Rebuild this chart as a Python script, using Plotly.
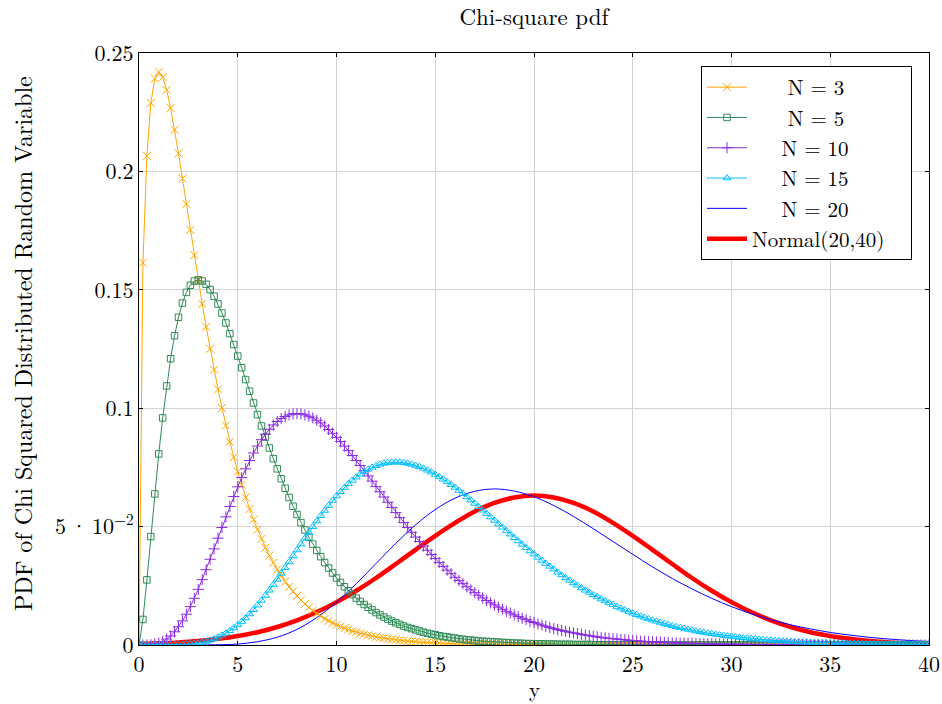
import numpy as np
import plotly.graph_objects as go

STEP_FINE = 0.2

chi3_pdf = [
    0.0, 0.1614, 0.2066, 0.2289, 0.2392, 0.2420, 0.2398, 0.2344, 0.2267, 0.2176,
    0.2076, 0.1970, 0.1862, 0.1753, 0.1646, 0.1542, 0.1441, 0.1344, 0.1251, 0.1163,
    0.1080, 0.1001, 0.0927, 0.0858, 0.0793, 0.0732, 0.0676, 0.0623, 0.0574, 0.0529,
    0.0487, 0.0448, 0.0411, 0.0378, 0.0347, 0.0319, 0.0293, 0.0268, 0.0246, 0.0226,
    0.0207, 0.0189, 0.0173, 0.0159, 0.0145, 0.0133, 0.0122, 0.0111, 0.0102, 0.0093,
    0.0085, 0.0078, 0.0071, 0.0065, 0.0059, 0.0054, 0.0049, 0.0045, 0.0041, 0.0037,
    0.0034, 0.0031, 0.0029, 0.0026, 0.0024, 0.0022, 0.0020, 0.0018, 0.0016, 0.0015,
    0.0014, 0.0012, 0.0011, 0.0010, 0.0009, 0.0009, 0.0008, 0.0007, 0.0006, 0.0006,
    0.0005, 0.0005, 0.0004, 0.0004, 0.0004, 0.0003, 0.0003, 0.0003, 0.0003, 0.0002,
    0.0002, 0.0002, 0.0002, 0.0002, 0.0001, 0.0001, 0.0001, 0.0001, 0.0001, 0.0001,
    0.0001, 0.0001, 0.0001, 0.0001, 0.0001, 0.0001, 0.0, 0.0, 0.0, 0.0,
    0.0, 0.0, 0.0, 0.0, 0.0, 0.0, 0.0, 0.0, 0.0, 0.0,
    0.0, 0.0, 0.0, 0.0, 0.0, 0.0, 0.0, 0.0, 0.0, 0.0,
    0.0, 0.0, 0.0, 0.0, 0.0, 0.0, 0.0, 0.0, 0.0, 0.0,
    0.0, 0.0, 0.0, 0.0, 0.0, 0.0, 0.0, 0.0, 0.0, 0.0,
    0.0, 0.0, 0.0, 0.0, 0.0, 0.0, 0.0, 0.0, 0.0, 0.0,
    0.0, 0.0, 0.0, 0.0, 0.0, 0.0, 0.0, 0.0, 0.0, 0.0,
    0.0, 0.0, 0.0, 0.0, 0.0, 0.0, 0.0, 0.0, 0.0, 0.0,
    0.0, 0.0, 0.0, 0.0, 0.0, 0.0, 0.0, 0.0, 0.0, 0.0,
    0.0, 0.0, 0.0, 0.0, 0.0, 0.0, 0.0, 0.0, 0.0, 0.0,
    0.0,
]

chi5_pdf = [
    0.0, 0.0108, 0.0275, 0.0458, 0.0638, 0.0807, 0.0959, 0.1094, 0.1209, 0.1306,
    0.1384, 0.1444, 0.1489, 0.1519, 0.1537, 0.1542, 0.1537, 0.1523, 0.1501, 0.1473,
    0.1440, 0.1402, 0.1360, 0.1315, 0.1269, 0.1220, 0.1171, 0.1121, 0.1072, 0.1022,
    0.0973, 0.0925, 0.0878, 0.0832, 0.0787, 0.0744, 0.0702, 0.0662, 0.0623, 0.0586,
    0.0551, 0.0517, 0.0486, 0.0455, 0.0426, 0.0399, 0.0373, 0.0348, 0.0325, 0.0304,
    0.0283, 0.0264, 0.0246, 0.0229, 0.0213, 0.0198, 0.0184, 0.0171, 0.0159, 0.0148,
    0.0137, 0.0127, 0.0118, 0.0109, 0.0101, 0.0094, 0.0087, 0.0080, 0.0074, 0.0069,
    0.0064, 0.0059, 0.0054, 0.0050, 0.0046, 0.0043, 0.0039, 0.0036, 0.0034, 0.0031,
    0.0029, 0.0026, 0.0024, 0.0022, 0.0021, 0.0019, 0.0017, 0.0016, 0.0015, 0.0014,
    0.0013, 0.0012, 0.0011, 0.0010, 0.0009, 0.0008, 0.0008, 0.0007, 0.0006, 0.0006,
    0.0005, 0.0005, 0.0005, 0.0004, 0.0004, 0.0004, 0.0003, 0.0003, 0.0003, 0.0003,
    0.0002, 0.0002, 0.0002, 0.0002, 0.0002, 0.0001, 0.0001, 0.0001, 0.0001, 0.0001,
    0.0001, 0.0001, 0.0001, 0.0001, 0.0001, 0.0001, 0.0001, 0.0001, 0.0, 0.0,
    0.0, 0.0, 0.0, 0.0, 0.0, 0.0, 0.0, 0.0, 0.0, 0.0,
    0.0, 0.0, 0.0, 0.0, 0.0, 0.0, 0.0, 0.0, 0.0, 0.0,
    0.0, 0.0, 0.0, 0.0, 0.0, 0.0, 0.0, 0.0, 0.0, 0.0,
    0.0, 0.0, 0.0, 0.0, 0.0, 0.0, 0.0, 0.0, 0.0, 0.0,
    0.0, 0.0, 0.0, 0.0, 0.0, 0.0, 0.0, 0.0, 0.0, 0.0,
    0.0, 0.0, 0.0, 0.0, 0.0, 0.0, 0.0, 0.0, 0.0, 0.0,
    0.0, 0.0, 0.0, 0.0, 0.0, 0.0, 0.0, 0.0, 0.0, 0.0,
    0.0,
]

chi10_pdf = [
    0.0, 0.0, 0.0, 0.0001, 0.0004, 0.0008, 0.0015, 0.0025, 0.0038, 0.0056,
    0.0077, 0.0102, 0.0130, 0.0162, 0.0197, 0.0235, 0.0276, 0.0318, 0.0362, 0.0406,
    0.0451, 0.0496, 0.0541, 0.0585, 0.0627, 0.0668, 0.0707, 0.0744, 0.0779, 0.0811,
    0.0840, 0.0867, 0.0890, 0.0911, 0.0929, 0.0944, 0.0956, 0.0965, 0.0972, 0.0976,
    0.0977, 0.0976, 0.0972, 0.0966, 0.0959, 0.0949, 0.0938, 0.0925, 0.0910, 0.0894,
    0.0877, 0.0859, 0.0840, 0.0821, 0.0800, 0.0779, 0.0758, 0.0736, 0.0714, 0.0692,
    0.0669, 0.0647, 0.0625, 0.0603, 0.0581, 0.0559, 0.0538, 0.0517, 0.0496, 0.0476,
    0.0456, 0.0437, 0.0418, 0.0400, 0.0382, 0.0365, 0.0348, 0.0332, 0.0316, 0.0301,
    0.0286, 0.0272, 0.0259, 0.0246, 0.0233, 0.0221, 0.0210, 0.0199, 0.0188, 0.0178,
    0.0169, 0.0160, 0.0151, 0.0142, 0.0135, 0.0127, 0.0120, 0.0113, 0.0107, 0.0100,
    0.0095, 0.0089, 0.0084, 0.0079, 0.0074, 0.0069, 0.0065, 0.0061, 0.0058, 0.0054,
    0.0051, 0.0048, 0.0045, 0.0042, 0.0039, 0.0037, 0.0034, 0.0032, 0.0030, 0.0028,
    0.0027, 0.0025, 0.0023, 0.0022, 0.0020, 0.0019, 0.0018, 0.0016, 0.0015, 0.0014,
    0.0013, 0.0013, 0.0012, 0.0011, 0.0010, 0.0009, 0.0009, 0.0008, 0.0008, 0.0007,
    0.0007, 0.0006, 0.0006, 0.0005, 0.0005, 0.0005, 0.0004, 0.0004, 0.0004, 0.0003,
    0.0003, 0.0003, 0.0003, 0.0003, 0.0002, 0.0002, 0.0002, 0.0002, 0.0002, 0.0002,
    0.0002, 0.0001, 0.0001, 0.0001, 0.0001, 0.0001, 0.0001, 0.0001, 0.0001, 0.0001,
    0.0001, 0.0001, 0.0001, 0.0001, 0.0001, 0.0, 0.0, 0.0, 0.0, 0.0,
    0.0, 0.0, 0.0, 0.0, 0.0, 0.0, 0.0, 0.0, 0.0, 0.0,
    0.0, 0.0, 0.0, 0.0, 0.0, 0.0, 0.0, 0.0, 0.0, 0.0,
    0.0,
]

chi15_pdf = [
    0.0, 0.0, 0.0, 0.0, 0.0, 0.0, 0.0, 0.0, 0.0, 0.0001,
    0.0001, 0.0002, 0.0003, 0.0004, 0.0006, 0.0008, 0.0011, 0.0015, 0.0020, 0.0026,
    0.0033, 0.0041, 0.0050, 0.0060, 0.0072, 0.0085, 0.0099, 0.0114, 0.0131, 0.0149,
    0.0168, 0.0188, 0.0209, 0.0231, 0.0254, 0.0277, 0.0302, 0.0326, 0.0351, 0.0376,
    0.0401, 0.0426, 0.0451, 0.0475, 0.0499, 0.0523, 0.0546, 0.0568, 0.0589, 0.0610,
    0.0629, 0.0647, 0.0665, 0.0681, 0.0695, 0.0709, 0.0721, 0.0732, 0.0742, 0.0750,
    0.0757, 0.0763, 0.0767, 0.0770, 0.0772, 0.0772, 0.0772, 0.0770, 0.0767, 0.0763,
    0.0758, 0.0753, 0.0746, 0.0738, 0.0730, 0.0720, 0.0710, 0.0700, 0.0689, 0.0677,
    0.0665, 0.0652, 0.0639, 0.0625, 0.0612, 0.0598, 0.0584, 0.0569, 0.0555, 0.0540,
    0.0526, 0.0511, 0.0497, 0.0482, 0.0468, 0.0453, 0.0439, 0.0425, 0.0411, 0.0397,
    0.0384, 0.0370, 0.0357, 0.0344, 0.0332, 0.0320, 0.0307, 0.0296, 0.0284, 0.0273,
    0.0262, 0.0252, 0.0241, 0.0231, 0.0222, 0.0212, 0.0203, 0.0194, 0.0186, 0.0178,
    0.0170, 0.0162, 0.0155, 0.0148, 0.0141, 0.0134, 0.0128, 0.0122, 0.0116, 0.0110,
    0.0105, 0.0100, 0.0095, 0.0090, 0.0086, 0.0081, 0.0077, 0.0073, 0.0070, 0.0066,
    0.0063, 0.0059, 0.0056, 0.0053, 0.0050, 0.0048, 0.0045, 0.0043, 0.0040, 0.0038,
    0.0036, 0.0034, 0.0032, 0.0030, 0.0029, 0.0027, 0.0026, 0.0024, 0.0023, 0.0021,
    0.0020, 0.0019, 0.0018, 0.0017, 0.0016, 0.0015, 0.0014, 0.0013, 0.0012, 0.0012,
    0.0011, 0.0010, 0.0010, 0.0009, 0.0009, 0.0008, 0.0008, 0.0007, 0.0007, 0.0006,
    0.0006, 0.0006, 0.0005, 0.0005, 0.0005, 0.0004, 0.0004, 0.0004, 0.0004, 0.0003,
    0.0003, 0.0003, 0.0003, 0.0003, 0.0002, 0.0002, 0.0002, 0.0002, 0.0002, 0.0002,
    0.0002,
]

# smooth curves without markers, sampled at every integer y
x_coarse = [0, 1, 2, 3, 4, 5, 6, 7, 8, 9, 10, 11, 12, 13, 14, 15, 16, 17, 18, 19, 20,
            21, 22, 23, 24, 25, 26, 27, 28, 29, 30, 31, 32, 33, 34, 35, 36, 37, 38, 39, 40]
chi20_pdf = [
    0.0, 0.0, 0.0, 0.0, 0.0001, 0.0004, 0.0014, 0.0033, 0.0066, 0.0116,
    0.0181, 0.0259, 0.0344, 0.0429, 0.0507, 0.0572, 0.0620, 0.0649, 0.0659, 0.0650,
    0.0626, 0.0589, 0.0543, 0.0491, 0.0437, 0.0383, 0.0330, 0.0281, 0.0237, 0.0197,
    0.0162, 0.0132, 0.0107, 0.0085, 0.0068, 0.0053, 0.0042, 0.0032, 0.0025, 0.0019,
    0.0015,
]
normal_pdf = [
    0.0004, 0.0007, 0.0011, 0.0017, 0.0026, 0.0038, 0.0054, 0.0076, 0.0104, 0.0139,
    0.0181, 0.0229, 0.0283, 0.0342, 0.0402, 0.0461, 0.0516, 0.0564, 0.0600, 0.0623,
    0.0631, 0.0623, 0.0600, 0.0564, 0.0516, 0.0461, 0.0402, 0.0342, 0.0283, 0.0229,
    0.0181, 0.0139, 0.0104, 0.0076, 0.0054, 0.0038, 0.0026, 0.0017, 0.0011, 0.0007,
    0.0004,
]

x_ticks = [0, 5, 10, 15, 20, 25, 30, 35, 40]
y_ticks = [0, 0.05, 0.1, 0.15, 0.2, 0.25]
y_ticktext = ["0", "5\u2009\u00b7\u200910<sup>\u22122</sup>", "0.1", "0.15", "0.2", "0.25"]

FONT = "Latin Modern Roman, CMU Serif, Liberation Serif, DejaVu Serif, serif"
NB = "\u00a0"
TH = "\u2009"

# plot-area geometry in pixels
L, R, T, B = 139, 13, 53, 59
W, H = 942, 704
PW, PH = W - L - R, H - T - B


def fine_x(vals):
    return np.round(np.arange(len(vals)) * STEP_FINE, 2)


fig = go.Figure()

marker_series = [
    ("N = 3", NB * 3 + TH, chi3_pdf, "#FFA500", "x-thin-open", 8),
    ("N = 5", NB * 3 + TH, chi5_pdf, "#2E8B57", "square-open", 6.5),
    ("N = 10", NB * 2 + TH * 2, chi10_pdf, "#8A2BE2", "cross-thin-open", 8),
    ("N = 15", NB * 2 + TH * 2, chi15_pdf, "#00BFFF", "triangle-up-open", 7),
]

# Normal drawn first (underneath), listed last in the legend
fig.add_trace(go.Scatter(
    x=x_coarse, y=normal_pdf, mode="lines", name="Normal(20,40)" + NB * 2,
    line=dict(color="#FF0000", width=4.5, shape="spline"), legendrank=1006,
))
fig.add_trace(go.Scatter(
    x=x_coarse, y=chi20_pdf, mode="lines", name=NB * 2 + TH * 2 + "N = 20",
    line=dict(color="#0000FF", width=1, shape="spline"), legendrank=1005,
))
for i, (name, pad, vals, col, sym, size) in enumerate(marker_series):
    fig.add_trace(go.Scatter(
        x=fine_x(vals), y=vals, mode="lines+markers", name=pad + name,
        line=dict(color=col, width=1),
        marker=dict(symbol=sym, size=size, color=col, line=dict(color=col, width=1)),
        legendrank=1001 + i,
    ))

fig.update_layout(
    width=W, height=H,
    margin=dict(l=L, r=R, t=T, b=B),
    plot_bgcolor="white", paper_bgcolor="white",
    font=dict(family=FONT, size=22, color="black"),
    title=dict(text="Chi-square pdf", x=0.5, xref="paper", xanchor="center",
               y=1 - 17 / H, yref="container", yanchor="middle",
               font=dict(family=FONT, size=23, color="black")),
    showlegend=True,
    legend=dict(
        x=(912 - L) / PW, xanchor="right", y=(H - B - 66) / PH, yanchor="top",
        bgcolor="white", bordercolor="black", borderwidth=1,
        font=dict(family=FONT, size=21, color="black"),
        itemwidth=40, tracegroupgap=0,
    ),
    annotations=[
        dict(text="y", xref="paper", yref="paper", x=0.5, y=-(704 - (H - B)) / PH,
             xanchor="center", yanchor="bottom", showarrow=False, borderpad=0,
             font=dict(family=FONT, size=21, color="black")),
        dict(text="PDF of Chi Squared Distributed Random Variable", xref="paper",
             yref="paper", x=-(L - 22) / PW, y=((H - B) - 344) / PH, textangle=-90,
             xanchor="center", yanchor="middle", showarrow=False,
             font=dict(family=FONT, size=24, color="black")),
    ],
)
fig.update_xaxes(
    range=[0, 40], tickvals=x_ticks, ticktext=[str(v) for v in x_ticks],
    showgrid=True, gridcolor="#d3d3d3", gridwidth=1, zeroline=False,
    showline=True, linecolor="black", linewidth=1, mirror="ticks",
    ticks="inside", ticklen=4, tickcolor="black", automargin=False,
    tickfont=dict(family=FONT, size=22),
)
fig.update_yaxes(
    range=[0, 0.25], tickvals=y_ticks, ticktext=y_ticktext,
    showgrid=True, gridcolor="#d3d3d3", gridwidth=1, zeroline=False,
    showline=True, linecolor="black", linewidth=1, mirror="ticks",
    ticks="inside", ticklen=4, tickcolor="black", automargin=False,
    tickfont=dict(family=FONT, size=22),
)

fig.write_html("out.html")
